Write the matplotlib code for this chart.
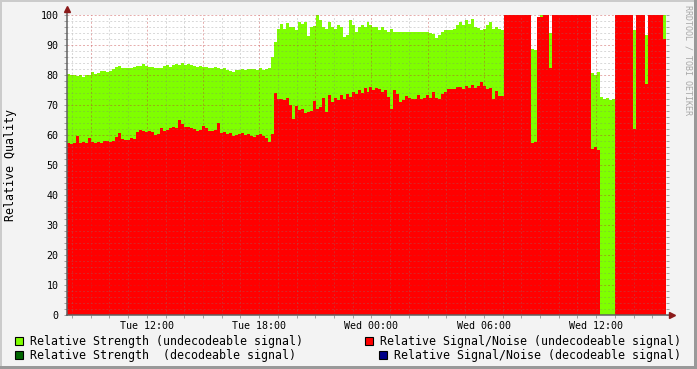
"""
RRDtool-style signal quality graph: relative strength / signal-noise
over ~32 hours, undecodeable signal only.
Writes out.png (697x369).
"""
from datetime import datetime, timedelta

import numpy as np
import matplotlib
matplotlib.use("Agg")
import matplotlib.pyplot as plt
import matplotlib.dates as mdates
from matplotlib.patches import Rectangle
from matplotlib.lines import Line2D
from matplotlib.ticker import MultipleLocator, FuncFormatter

W, H = 697, 369
START = datetime(2024, 1, 2, 7, 44)     # a Tuesday
STEP_MIN = 9.6                          # one sample per ~10 min

# Relative Strength (undecodeable signal), %
strength = [
    80.3, 80.0, 80.1, 79.8, 79.9, 79.2, 80.0, 80.0, 81.0, 80.4,
    80.6, 81.5, 81.3, 81.0, 81.2, 82.0, 82.7, 83.0, 82.2, 82.3,
    82.4, 82.4, 82.8, 82.9, 83.0, 83.6, 82.9, 82.8, 82.6, 82.5,
    82.4, 82.3, 82.9, 83.2, 82.8, 83.5, 83.7, 83.4, 83.9, 83.5,
    83.8, 83.3, 83.0, 82.7, 83.0, 82.6, 82.7, 82.5, 82.4, 82.6,
    82.2, 82.0, 82.3, 81.6, 81.2, 81.0, 81.6, 81.8, 81.9, 81.7,
    82.1, 81.9, 82.0, 81.6, 82.3, 81.8, 82.0, 82.2, 86.0, 91.0,
    95.4, 97.0, 95.4, 97.2, 96.0, 96.0, 95.0, 97.7, 97.0, 97.7,
    93.0, 96.0, 96.5, 99.9, 98.2, 96.0, 95.4, 97.7, 96.0, 95.4,
    96.6, 96.0, 92.7, 93.5, 98.2, 96.6, 94.5, 96.0, 96.6, 96.0,
    97.7, 96.6, 96.0, 96.0, 94.9, 96.0, 95.0, 94.4, 95.5, 94.4,
    94.4, 94.4, 94.3, 94.3, 94.2, 94.2, 94.2, 94.2, 94.2, 94.2,
    94.3, 94.0, 93.8, 92.2, 93.3, 94.5, 94.9, 94.9, 94.9, 95.2,
    96.6, 97.7, 96.6, 98.2, 97.0, 98.8, 96.0, 95.8, 94.9, 95.4,
    96.6, 97.7, 95.4, 96.0, 95.2, 95.0, 100, 100, 100, 100,
    100, 100, 100, 100, 100, 88.7, 88.5, 99.3, 100, 100,
    100, 94.0, 100, 100, 100, 100, 100, 100, 100, 100,
    100, 100, 100, 100, 100, 80.7, 80.0, 81.0, 72.8, 72.0,
    72.3, 71.8, 72.0, 100, 100, 100, 100, 100, 100, 95.0,
    100, 100, 100, 93.3, 100, 100, 100, 100, 100, 100,
]

# Relative Signal/Noise (undecodeable signal), %
snr = [
    57.2, 57.0, 57.4, 59.6, 57.3, 57.6, 57.2, 59.0, 57.8, 57.3,
    57.8, 57.5, 57.9, 58.0, 57.6, 58.0, 59.5, 60.6, 58.6, 58.4,
    58.2, 58.9, 58.7, 61.0, 61.8, 61.2, 61.0, 61.4, 61.1, 60.0,
    60.2, 62.3, 61.2, 61.7, 62.3, 62.7, 62.5, 65.0, 63.6, 62.7,
    62.8, 62.2, 62.0, 61.5, 61.7, 63.0, 62.5, 61.5, 61.4, 61.6,
    64.0, 60.6, 61.0, 60.4, 60.8, 59.7, 60.0, 60.5, 60.7, 60.0,
    60.2, 59.6, 59.5, 60.0, 60.3, 59.6, 58.9, 57.8, 60.5, 73.9,
    71.9, 72.0, 71.6, 72.5, 70.0, 65.4, 69.8, 68.2, 68.8, 67.5,
    67.7, 68.0, 71.5, 68.8, 69.5, 72.2, 67.7, 73.3, 71.0, 72.2,
    71.8, 73.3, 72.0, 73.8, 72.7, 74.3, 73.8, 75.0, 74.0, 75.6,
    74.3, 76.0, 75.0, 75.7, 75.5, 74.3, 75.0, 72.7, 68.8, 75.0,
    73.8, 71.1, 71.7, 73.0, 72.4, 71.9, 71.9, 73.3, 71.9, 72.3,
    73.3, 72.2, 74.3, 72.2, 71.9, 73.8, 74.3, 75.2, 75.2, 75.2,
    75.9, 75.9, 75.2, 76.2, 75.6, 76.6, 75.6, 76.2, 77.7, 76.2,
    75.4, 75.6, 71.9, 74.8, 73.0, 73.0, 100, 100, 100, 100,
    100, 100, 100, 100, 100, 57.2, 57.8, 99.3, 99.3, 100,
    100, 82.2, 100, 100, 100, 100, 100, 100, 100, 100,
    100, 100, 100, 100, 100, 55.3, 56.0, 55.0, 0, 0,
    0, 0, 0, 100, 100, 100, 100, 100, 100, 62.0,
    100, 100, 100, 77.0, 100, 100, 100, 100, 100, 92.0,
]

legend_labels = [
    "Relative Strength (undecodeable signal)",
    "Relative Signal/Noise (undecodeable signal)",
    "Relative Strength  (decodeable signal)",
    "Relative Signal/Noise (decodeable signal)",
]
legend_colors = ["#7fff00", "#ff0000", "#006600", "#000088"]


def fx(px):
    return px / W


def fy(py):
    return 1 - py / H


plt.rcParams["font.family"] = ["DejaVu Sans Mono"]

n = len(strength)
edges = [START + timedelta(minutes=STEP_MIN * i) for i in range(n + 1)]
x = mdates.date2num(edges)
s = np.append(strength, strength[-1])
r = np.append(snr, snr[-1])

fig = plt.figure(figsize=(W / 100, H / 100), dpi=100, facecolor="#f3f3f3")
ax = fig.add_axes([fx(67), fy(315), (666 - 67) / W, 300 / H])
ax.set_facecolor("white")

ax.fill_between(x, 0, s, step="post", color="#7fff00", lw=0, zorder=1)
ax.fill_between(x, 0, r, step="post", color="#ff0000", lw=0, zorder=1.1)
ax.set_xlim(x[0], x[-1])
ax.set_ylim(0, 100)

# time axis: grid every hour, red grid every 3h, labels every 6h
ax.xaxis.set_major_locator(mdates.HourLocator(byhour=range(0, 24, 3)))
ax.xaxis.set_minor_locator(mdates.HourLocator())


def time_label(v, pos):
    d = mdates.num2date(v)
    return d.strftime("%a %H:%M") if d.hour % 6 == 0 else ""


ax.xaxis.set_major_formatter(FuncFormatter(time_label))
ax.yaxis.set_major_locator(MultipleLocator(10))
ax.yaxis.set_minor_locator(MultipleLocator(2))

ax.set_axisbelow(False)
ax.grid(which="minor", color="#808080", alpha=0.3, lw=0.7, ls=(0, (2, 2)))
ax.grid(which="major", color="#c03030", alpha=0.4, lw=0.7, ls=(0, (2, 2)))

ax.tick_params(which="both", direction="out", length=2, width=0.7,
               color="#a0a0a0", labelsize=7.2)
ax.tick_params(axis="y", pad=4)
ax.tick_params(axis="x", pad=2.2)
ax.tick_params(axis="y", which="both", right=True)

for side in ("top", "right", "left", "bottom"):
    ax.spines[side].set_visible(False)

# axes with arrow heads
axis_c, arrow_c = "#606060", "#8b1a1a"
ax.add_line(Line2D([0, 0], [0, 1 + 4 / 300], transform=ax.transAxes,
                   color=axis_c, lw=1.1, clip_on=False, zorder=5))
ax.add_line(Line2D([0, 1 + 4 / 599], [0, 0], transform=ax.transAxes,
                   color=axis_c, lw=1.1, clip_on=False, zorder=5))
ax.plot([0], [1 + 6 / 300], marker="^", ms=5, color=arrow_c,
        transform=ax.transAxes, clip_on=False, zorder=6)
ax.plot([1 + 6 / 599], [0], marker=">", ms=5, color=arrow_c,
        transform=ax.transAxes, clip_on=False, zorder=6)

fig.text(fx(10.5), fy(165), "Relative Quality", rotation=90,
         ha="center", va="center", fontsize=8.4)
fig.text(fx(688), fy(60), "RRDTOOL / TOBI OETIKER", rotation=270,
         ha="center", va="center", fontsize=6, color="#a8a8a8")

# legend, rrdtool style: two columns, second one right aligned
legend_pos = [(15, 30, 341), (365, 380, 341), (15, 30, 355), (379, 394, 355)]
for (bx, tx, ty), lab, col in zip(legend_pos, legend_labels, legend_colors):
    fig.add_artist(Rectangle((fx(bx), fy(ty + 4)), 8 / W, 8 / H,
                             facecolor=col, edgecolor="black", lw=0.8,
                             transform=fig.transFigure))
    fig.text(fx(tx), fy(ty), lab, ha="left", va="center", fontsize=8.4)

# 3d-ish frame
fig.add_artist(Rectangle((0, fy(2)), 1, 2 / H, color="#cbcbcb",
                         transform=fig.transFigure, lw=0))
fig.add_artist(Rectangle((0, 0), 2 / W, 1, color="#cbcbcb",
                         transform=fig.transFigure, lw=0))
fig.add_artist(Rectangle((0, 0), 1, 3 / H, color="#999999",
                         transform=fig.transFigure, lw=0))
fig.add_artist(Rectangle((fx(W - 3), 0), 3 / W, 1, color="#999999",
                         transform=fig.transFigure, lw=0))

fig.savefig("out.png", dpi=100, facecolor=fig.get_facecolor())
